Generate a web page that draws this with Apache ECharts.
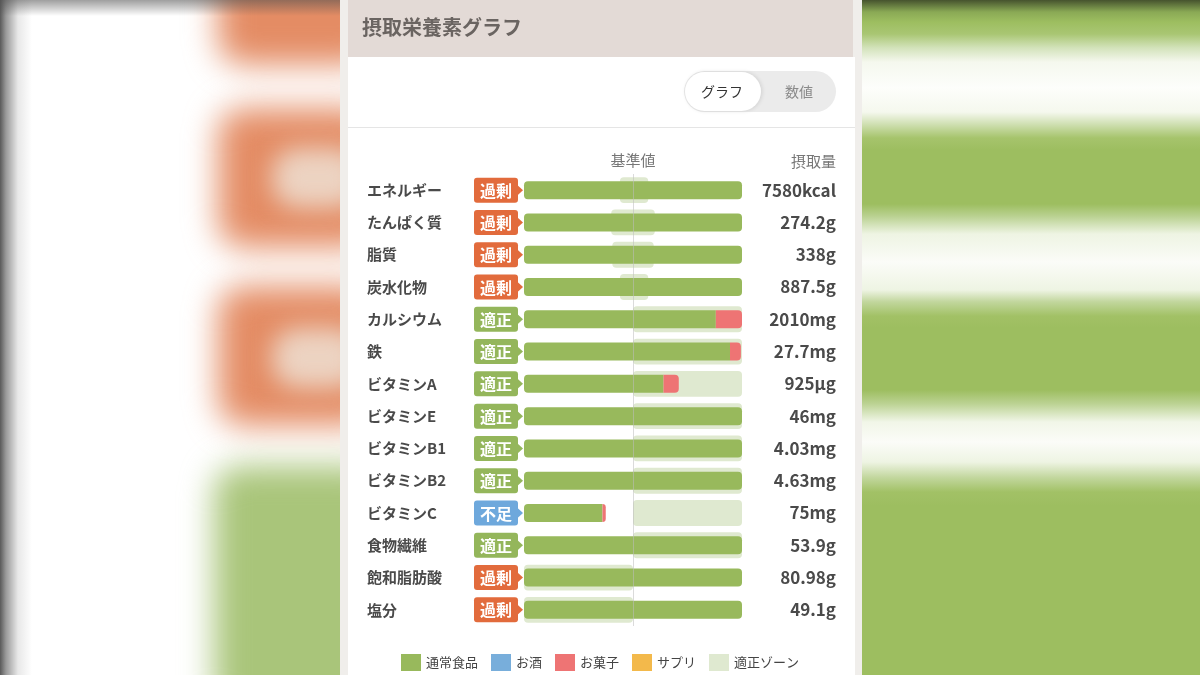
<!DOCTYPE html>
<html lang="ja">
<head>
<meta charset="utf-8">
<script src="https://cdn.jsdelivr.net/npm/echarts@6/dist/echarts.min.js"></script>
<style>
  html, body { margin: 0; padding: 0; width: 1200px; height: 675px; overflow: hidden; background: #fff; }
  #bg { position: absolute; left: 0; top: 0; width: 1200px; height: 675px; overflow: hidden; }
  .blob { position: absolute; filter: blur(16px); border-radius: 26px; }
  #leftEdge { position: absolute; left: 0; top: 0; width: 40px; height: 675px;
    background: linear-gradient(to right, #5a5a5a 0px, #9a9a9a 6px, #e8e8e8 18px, rgba(255,255,255,0) 32px); }
  #leftTop { position: absolute; left: 0; top: 0; width: 345px; height: 16px;
    background: linear-gradient(to bottom, rgba(80,80,80,0.55), rgba(255,255,255,0)); }
  #right { position: absolute; left: 856px; top: 0; width: 344px; height: 675px;
    background: linear-gradient(to bottom,
      #46532e 0px, #8aa955 12px, #9dbe60 22px, #a9c673 34px, #d3e3bb 48px, #f5f8ee 62px, #fdfefb 88px,
      #f5f8ee 112px, #d0e0b3 124px, #a6c46c 138px, #9dbe60 150px, #9dbe60 204px, #b9d190 216px,
      #eef4e3 234px, #fbfcf8 262px, #eef4e3 290px, #c1d69c 302px, #a2c166 316px, #9dbe60 328px,
      #9dbe60 390px, #bcd394 404px, #f1f6e8 422px, #fbfcf8 442px, #eef4e3 462px, #c1d69c 478px,
      #a2c166 492px, #9dbe60 506px, #9dbe60 675px); }
  #chart { position: absolute; left: 0; top: 0; width: 1200px; height: 675px; }
</style>
</head>
<body>
<div id="bg">
  <div class="blob" style="left:218px; top:-80px; width:160px; height:145px; background:#e48c64;"></div>
  <div class="blob" style="left:218px; top:108px; width:160px; height:140px; background:#e48c64;"></div>
  <div class="blob" style="left:272px; top:148px; width:90px; height:60px; background:#ecd3c2; filter:blur(12px);"></div>
  <div class="blob" style="left:218px; top:286px; width:160px; height:140px; background:#e48c64;"></div>
  <div class="blob" style="left:272px; top:328px; width:90px; height:60px; background:#ecd3c2; filter:blur(12px);"></div>
  <div class="blob" style="left:214px; top:466px; width:170px; height:250px; background:#a9c57a;"></div>
  <div id="leftEdge"></div>
  <div id="leftTop"></div>
  <div id="right"></div>
</div>
<div id="chart"></div>
<script>
// ---- data ----
const nutrients = ['エネルギー','たんぱく質','脂質','炭水化物','カルシウム','鉄','ビタミンA','ビタミンE','ビタミンB1','ビタミンB2','ビタミンC','食物繊維','飽和脂肪酸','塩分'];
const statuses  = ['過剰','過剰','過剰','過剰','適正','適正','適正','適正','適正','適正','不足','適正','過剰','過剰'];
const intakeLabels = ['7580kcal','274.2g','338g','887.5g','2010mg','27.7mg','925µg','46mg','4.03mg','4.63mg','75mg','53.9g','80.98g','49.1g'];
// % of 基準値 as drawn (bar is capped at 200%)
const regularFood = [200,200,200,200,176,189,128,200,200,200,72,200,200,200];
const alcohol     = [0,0,0,0,0,0,0,0,0,0,0,0,0,0];
const snacks      = [0,0,0,0,24,10,14,0,0,0,3,0,0,0];
const supplements = [0,0,0,0,0,0,0,0,0,0,0,0,0,0];
const zoneLow  = [88,80,81,88,100,100,100,100,100,100,100,100,0,0];
const zoneHigh = [114,120,119,114,200,200,200,200,200,200,200,200,100,100];
const legendNames = ['通常食品','お酒','お菓子','サプリ','適正ゾーン'];

// ---- styles ----
const FONT = '"Noto Sans CJK JP", "Noto Sans", sans-serif';
const C = { food:'#98b95c', alcohol:'#78aedb', snack:'#ee7474', supp:'#f3b94b', zone:'#dfe9d0' };
const badgeColor = { '過剰':'#e26b3c', '適正':'#94b65b', '不足':'#6ea8dc' };

function stackedData(values, isLast) {
  return values.map((v, i) => {
    const later = isLast ? 0 : snacks[i] + supplements[i];
    const earlier = regularFood[i] + alcohol[i];
    let r;
    if (isLast) r = earlier > 0 ? [0,4,4,0] : 4;
    else r = later > 0 ? [4,0,0,4] : 4;
    return { value: v, itemStyle: { borderRadius: r } };
  });
}

function renderZone(params, api) {
  const idx = api.value(2);
  const a = api.coord([api.value(0), idx]);
  const b = api.coord([api.value(1), idx]);
  const h = api.size([0, 1])[1] * 0.8;
  return { type: 'rect', shape: { x: a[0], y: a[1] - h / 2, width: b[0] - a[0], height: h, r: 4 },
           style: { fill: C.zone } };
}

function renderBadge(params, api) {
  const idx = api.value(1);
  const p = api.coord([0, idx]);
  const s = statuses[idx];
  const col = badgeColor[s];
  const x0 = p[0] - 50, w = 44, h = 25, cy = p[1];
  return { type: 'group', children: [
    { type: 'rect', shape: { x: x0, y: cy - h / 2, width: w, height: h, r: 3 }, style: { fill: col } },
    { type: 'polygon', shape: { points: [[x0 + w - 1, cy - 5.5], [x0 + w + 5, cy], [x0 + w - 1, cy + 5.5]] }, style: { fill: col } },
    { type: 'text', style: { text: s, x: x0 + w / 2, y: cy + 0.5, fill: '#fff', fontSize: 16, fontWeight: 'bold',
        fontFamily: FONT, align: 'center', verticalAlign: 'middle', textAlign: 'center', textVerticalAlign: 'middle' } }
  ]};
}

const chart = echarts.init(document.getElementById('chart'), null, { renderer: 'canvas' });
chart.setOption({
  animation: false,
  backgroundColor: 'transparent',
  textStyle: { fontFamily: FONT },
  graphic: [
    { type: 'rect', z: -10, shape: { x: 340, y: 0, width: 522, height: 675 }, style: { fill: '#f0eeeb' } },
    { type: 'rect', z: -9, shape: { x: 348, y: 0, width: 505, height: 57 }, style: { fill: '#e3dad6' } },
    { type: 'rect', z: -9, shape: { x: 348, y: 57, width: 507, height: 618 }, style: { fill: '#ffffff' } },
    { type: 'line', z: -8, shape: { x1: 348, y1: 127.5, x2: 855, y2: 127.5 }, style: { stroke: '#e5e5e5', lineWidth: 1 } },
    { type: 'text', z: -8, style: { text: '摂取栄養素グラフ', x: 362, y: 27, fill: '#6a6461',
        font: 'bold 20px ' + FONT, textVerticalAlign: 'middle', verticalAlign: 'middle' } },
    { type: 'rect', z: -8, shape: { x: 684, y: 71, width: 152, height: 41, r: 20.5 }, style: { fill: '#ebebeb' } },
    { type: 'rect', z: -7, shape: { x: 685, y: 72, width: 76, height: 39, r: 19.5 },
      style: { fill: '#ffffff', shadowBlur: 4, shadowColor: 'rgba(0,0,0,0.12)', shadowOffsetX: 1 } },
    { type: 'text', z: -6, style: { text: 'グラフ', x: 722, y: 92, fill: '#333', font: '14px ' + FONT,
        textAlign: 'center', align: 'center', textVerticalAlign: 'middle', verticalAlign: 'middle' } },
    { type: 'text', z: -6, style: { text: '数値', x: 799, y: 92, fill: '#8a8a8a', font: '14px ' + FONT,
        textAlign: 'center', align: 'center', textVerticalAlign: 'middle', verticalAlign: 'middle' } },
    { type: 'text', z: -6, style: { text: '摂取量', x: 836, y: 161, fill: '#777', font: '15px ' + FONT,
        textAlign: 'right', align: 'right', textVerticalAlign: 'middle', verticalAlign: 'middle' } }
  ],
  legend: {
    data: legendNames,
    left: 'center', top: 649,
    icon: 'rect', itemWidth: 20, itemHeight: 17, itemGap: 13,
    textStyle: { fontSize: 13, color: '#444', fontFamily: FONT },
    selectedMode: false
  },
  grid: { left: 524, right: 458, top: 174, height: 452, containLabel: false },
  xAxis: { type: 'value', min: 0, max: 200, show: false, splitLine: { show: false } },
  yAxis: [
    { type: 'category', data: nutrients, inverse: true,
      axisLine: { show: false }, axisTick: { show: false },
      axisLabel: { align: 'left', margin: 157, fontSize: 15, color: '#4a4a4a', fontWeight: 'bold', fontFamily: FONT } },
    { type: 'category', data: intakeLabels, inverse: true, position: 'right',
      axisLine: { show: false }, axisTick: { show: false },
      axisLabel: { align: 'right', margin: 94, fontSize: 17, color: '#4a4a4a', fontWeight: 'bold', fontFamily: FONT } }
  ],
  series: [
    { name: '適正ゾーン', type: 'custom', renderItem: renderZone, itemStyle: { color: C.zone },
      encode: { x: [0, 1], y: 2 }, data: zoneLow.map((lo, i) => [lo, zoneHigh[i], i]), z: 1 },
    { name: 'badges', type: 'custom', renderItem: renderBadge, encode: { x: 0, y: 1 },
      data: statuses.map((s, i) => [0, i]), z: 3, silent: true },
    { name: '通常食品', type: 'bar', stack: 'intake', barWidth: 18, itemStyle: { color: C.food },
      data: stackedData(regularFood, false), z: 2,
      markLine: { silent: true, symbol: 'none', z: 5,
        lineStyle: { color: 'rgba(190,190,190,0.55)', width: 1, type: 'solid' },
        label: { show: true, position: 'start', formatter: '基準値', color: '#777', fontSize: 15, fontFamily: FONT, distance: 6 },
        data: [{ xAxis: 100 }] } },
    { name: 'お酒', type: 'bar', stack: 'intake', barWidth: 18, itemStyle: { color: C.alcohol }, data: alcohol, z: 2 },
    { name: 'お菓子', type: 'bar', stack: 'intake', barWidth: 18, itemStyle: { color: C.snack },
      data: stackedData(snacks, true), z: 2 },
    { name: 'サプリ', type: 'bar', stack: 'intake', barWidth: 18, itemStyle: { color: C.supp }, data: supplements, z: 2 }
  ]
});
</script>
</body>
</html>
